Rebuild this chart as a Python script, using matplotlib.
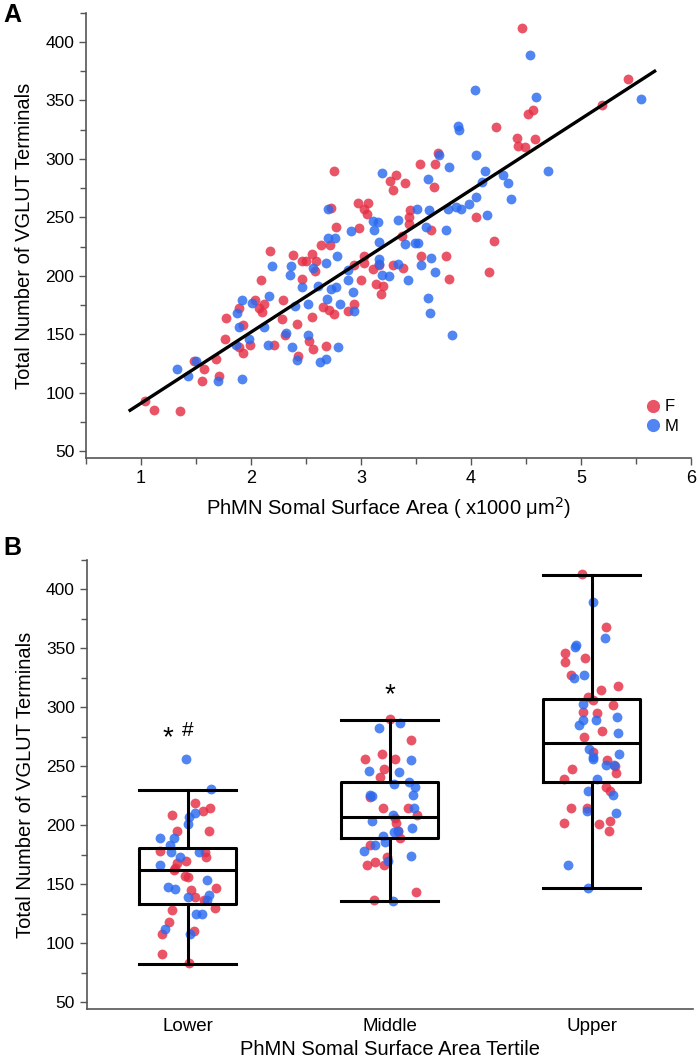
import matplotlib
matplotlib.use("Agg")
import matplotlib.pyplot as plt
from matplotlib.ticker import MultipleLocator
from matplotlib.lines import Line2D
import numpy as np

plt.rcParams["font.family"] = ["Liberation Sans", "DejaVu Sans"]

# ---- panel A data: somal surface area (x1000 um^2) vs VGLUT terminals ----
f_area = [1.04, 1.12, 1.35, 1.48, 1.57, 1.55, 1.68, 1.71, 1.77, 1.76, 1.89, 1.93, 1.89, 1.93,
          1.99, 2.04, 2.12, 2.07, 2.10, 2.09, 2.21, 2.29, 2.28, 2.31, 2.43, 2.42, 2.17, 2.38,
          2.46, 2.73, 2.97, 3.06, 3.03, 3.05, 2.77, 2.98, 2.64, 2.72, 2.55, 2.46, 2.50, 2.59,
          2.58, 2.94, 3.03, 3.03, 3.16, 3.11, 3.00, 3.14, 3.18, 2.65, 2.71, 2.75, 2.55, 2.94,
          2.88, 2.53, 2.68, 2.56, 2.75, 4.46, 4.56, 4.52, 4.23, 4.42, 4.43, 4.49, 4.58, 5.43,
          5.19, 3.70, 3.54, 3.67, 3.32, 3.26, 3.29, 3.40, 3.66, 3.45, 3.44, 3.44, 4.05, 3.64,
          3.37, 4.21, 3.55, 3.77, 3.29, 3.38, 4.16, 3.20, 3.80]
f_vglut = [93, 85, 84, 127, 120, 110, 129, 114, 164, 146, 172, 158, 139, 134,
           141, 179, 176, 172, 169, 196, 141, 179, 163, 149, 131, 159, 221, 218,
           197, 258, 262, 262, 257, 253, 242, 241, 226, 226, 219, 213, 213, 213,
           204, 209, 217, 211, 209, 206, 196, 193, 184, 173, 171, 167, 165, 176,
           170, 144, 140, 137, 290, 412, 342, 338, 327, 318, 311, 310, 317, 368,
           346, 305, 296, 296, 286, 281, 273, 279, 276, 256, 250, 244, 250, 239,
           234, 230, 217, 217, 209, 207, 203, 191, 197]

m_area = [1.33, 1.43, 1.50, 1.70, 1.87, 1.92, 1.89, 1.86, 1.92, 1.98, 2.01, 2.12, 2.15, 2.16,
          2.19, 2.32, 2.37, 2.42, 2.40, 2.35, 2.36, 2.46, 2.70, 3.11, 3.15, 2.91, 3.12, 2.70,
          2.76, 3.16, 2.56, 2.68, 2.78, 3.16, 3.16, 2.88, 2.88, 2.93, 2.77, 2.73, 2.61, 2.69,
          2.52, 2.81, 2.94, 2.52, 2.79, 2.63, 2.68, 4.54, 4.04, 4.59, 3.88, 3.89, 5.55, 4.70,
          3.71, 3.80, 4.05, 4.13, 3.19, 3.61, 4.29, 4.34, 4.10, 4.36, 4.05, 3.98, 3.91, 3.86,
          3.79, 3.62, 3.51, 3.34, 4.15, 3.59, 3.77, 3.40, 3.49, 3.52, 3.64, 3.55, 3.34, 3.67,
          3.25, 3.19, 3.43, 3.61, 3.63, 3.83]
m_vglut = [120, 114, 127, 110, 168, 179, 156, 141, 112, 146, 177, 156, 141, 183,
           208, 151, 139, 128, 174, 201, 208, 190, 257, 247, 246, 238, 239, 232,
           232, 229, 207, 211, 217, 214, 210, 205, 196, 186, 190, 189, 191, 180,
           176, 176, 170, 149, 139, 126, 129, 389, 359, 353, 328, 325, 351, 290,
           303, 293, 303, 290, 288, 283, 286, 279, 280, 266, 267, 261, 257, 259,
           257, 256, 257, 248, 252, 242, 239, 227, 228, 228, 215, 209, 210, 203,
           200, 201, 196, 181, 168, 149]

fit_intercept = 30.2
fit_slope = 60.8
fit_range = [0.9, 5.67]

# ---- panel B data: VGLUT terminals by surface area tertile ----
tertiles = ["Lower", "Middle", "Upper"]
lower_f = [219, 215, 212, 209, 195, 195, 178, 173, 177, 170, 168, 164, 162, 157, 156, 145,
           147, 137, 139, 130, 128, 118, 110, 108, 91, 83]
lower_m = [256, 231, 210, 207, 201, 189, 189, 183, 177, 177, 173, 166, 154, 148, 146, 141,
           139, 137, 125, 125, 112, 108]
middle_f = [290, 272, 260, 256, 256, 248, 241, 224, 215, 215, 209, 206, 202, 195, 189, 183,
            173, 169, 166, 166, 143, 137]
middle_m = [287, 282, 255, 245, 246, 237, 232, 226, 235, 226, 225, 215, 209, 204, 198, 195,
            194, 191, 186, 183, 178, 174, 170, 136]
upper_f = [413, 368, 346, 342, 338, 327, 318, 315, 309, 306, 302, 296, 295, 280, 275, 262,
           255, 250, 248, 244, 239, 232, 229, 215, 215, 204, 202, 201, 195]
upper_m = [389, 359, 353, 351, 327, 325, 303, 292, 289, 289, 285, 278, 265, 260, 258, 256,
           251, 251, 239, 229, 226, 212, 210, 166, 147]

# box statistics
box_q1 = [133, 189, 237]
box_med = [162, 207, 270]
box_q3 = [181, 237, 307]
box_lo = [82, 135.5, 147]
box_hi = [230, 289, 412]

sig_marks = ["*#", "*", ""]

red = "#E62E45"
blue = "#2A6AF0"
axis_grey = "#555555"

fig = plt.figure(figsize=(7, 10.58), dpi=100)
axA = fig.add_axes([0.123, 0.567, 0.864, 0.421])
axB = fig.add_axes([0.124, 0.046, 0.866, 0.425])


def style_axis(ax):
    for side in ["top", "right"]:
        ax.spines[side].set_visible(False)
    for side in ["left", "bottom"]:
        ax.spines[side].set_color(axis_grey)
        ax.spines[side].set_linewidth(1.2)
    ax.set_ylim(44, 425)
    ax.yaxis.set_major_locator(MultipleLocator(50))
    ax.yaxis.set_minor_locator(MultipleLocator(25))
    ax.tick_params(axis="both", which="both", direction="out", color=axis_grey,
                   width=1.0, labelsize=12.5)
    ax.tick_params(axis="both", which="major", length=5)
    ax.tick_params(axis="both", which="minor", length=4)
    ax.set_ylabel("Total Number of VGLUT Terminals", fontsize=14.5, labelpad=8)


# ---- panel A ----
style_axis(axA)
axA.scatter(f_area, f_vglut, s=50, color=red, alpha=0.82, linewidths=0, zorder=2)
axA.scatter(m_area, m_vglut, s=50, color=blue, alpha=0.82, linewidths=0, zorder=2)
fx = np.array(fit_range)
axA.plot(fx, fit_intercept + fit_slope * fx, color="black", lw=2.4, zorder=3)
axA.set_xlim(0.5, 6.0)
axA.xaxis.set_major_locator(MultipleLocator(1))
axA.xaxis.set_minor_locator(MultipleLocator(0.5))
axA.tick_params(axis="x", labelsize=13)
axA.set_xlabel("PhMN Somal Surface Area ( x1000 \u03bcm$^2$)", fontsize=14.5, labelpad=6)

handles = [Line2D([], [], marker="o", ls="", color=red, alpha=0.82, markersize=9.5, mew=0),
           Line2D([], [], marker="o", ls="", color=blue, alpha=0.82, markersize=9.5, mew=0)]
axA.legend(handles, ["F", "M"], loc="lower right", bbox_to_anchor=(0.99, 0.04),
           frameon=False, fontsize=12, handletextpad=0.1, labelspacing=0.25,
           borderaxespad=0, handlelength=1.2)

# ---- panel B ----
style_axis(axB)
rng = np.random.default_rng(7)
groups = [(lower_f, lower_m), (middle_f, middle_m), (upper_f, upper_m)]
for i, (gf, gm) in enumerate(groups):
    jf = rng.uniform(-0.14, 0.14, len(gf))
    jm = rng.uniform(-0.14, 0.14, len(gm))
    axB.scatter(i + jf, gf, s=50, color=red, alpha=0.82, linewidths=0, zorder=2)
    axB.scatter(i + jm, gm, s=50, color=blue, alpha=0.82, linewidths=0, zorder=2)

stats = []
for i in range(3):
    stats.append(dict(med=box_med[i], q1=box_q1[i], q3=box_q3[i],
                      whislo=box_lo[i], whishi=box_hi[i], fliers=[]))
line_kw = dict(color="black", linewidth=2.2)
axB.bxp(stats, positions=[0, 1, 2], widths=0.48, showfliers=False, patch_artist=False,
        boxprops=line_kw, medianprops=line_kw, whiskerprops=line_kw, capprops=line_kw,
        capwidths=0.48, manage_ticks=False, zorder=4)

axB.set_xlim(-0.5, 2.5)
axB.set_xticks(range(3))
axB.set_xticklabels(tertiles)
axB.tick_params(axis="x", which="both", length=0, labelsize=13.5, pad=6)
axB.set_xlabel("PhMN Somal Surface Area Tertile", fontsize=14.5, labelpad=4)

for i, mark in enumerate(sig_marks):
    if not mark:
        continue
    top = [282, 318][i]
    axB.text(i - 0.1 if len(mark) > 1 else i, top - 14, "*", fontsize=20,
             ha="center", va="baseline")
    if "#" in mark:
        axB.text(i, top - 6, "#", fontsize=15, ha="center", va="baseline")

fig.text(0.005, 0.997, "A", fontsize=18, fontweight="bold", va="top", ha="left")
fig.text(0.005, 0.493, "B", fontsize=18, fontweight="bold", va="top", ha="left")

fig.savefig("out.png", dpi=100)
